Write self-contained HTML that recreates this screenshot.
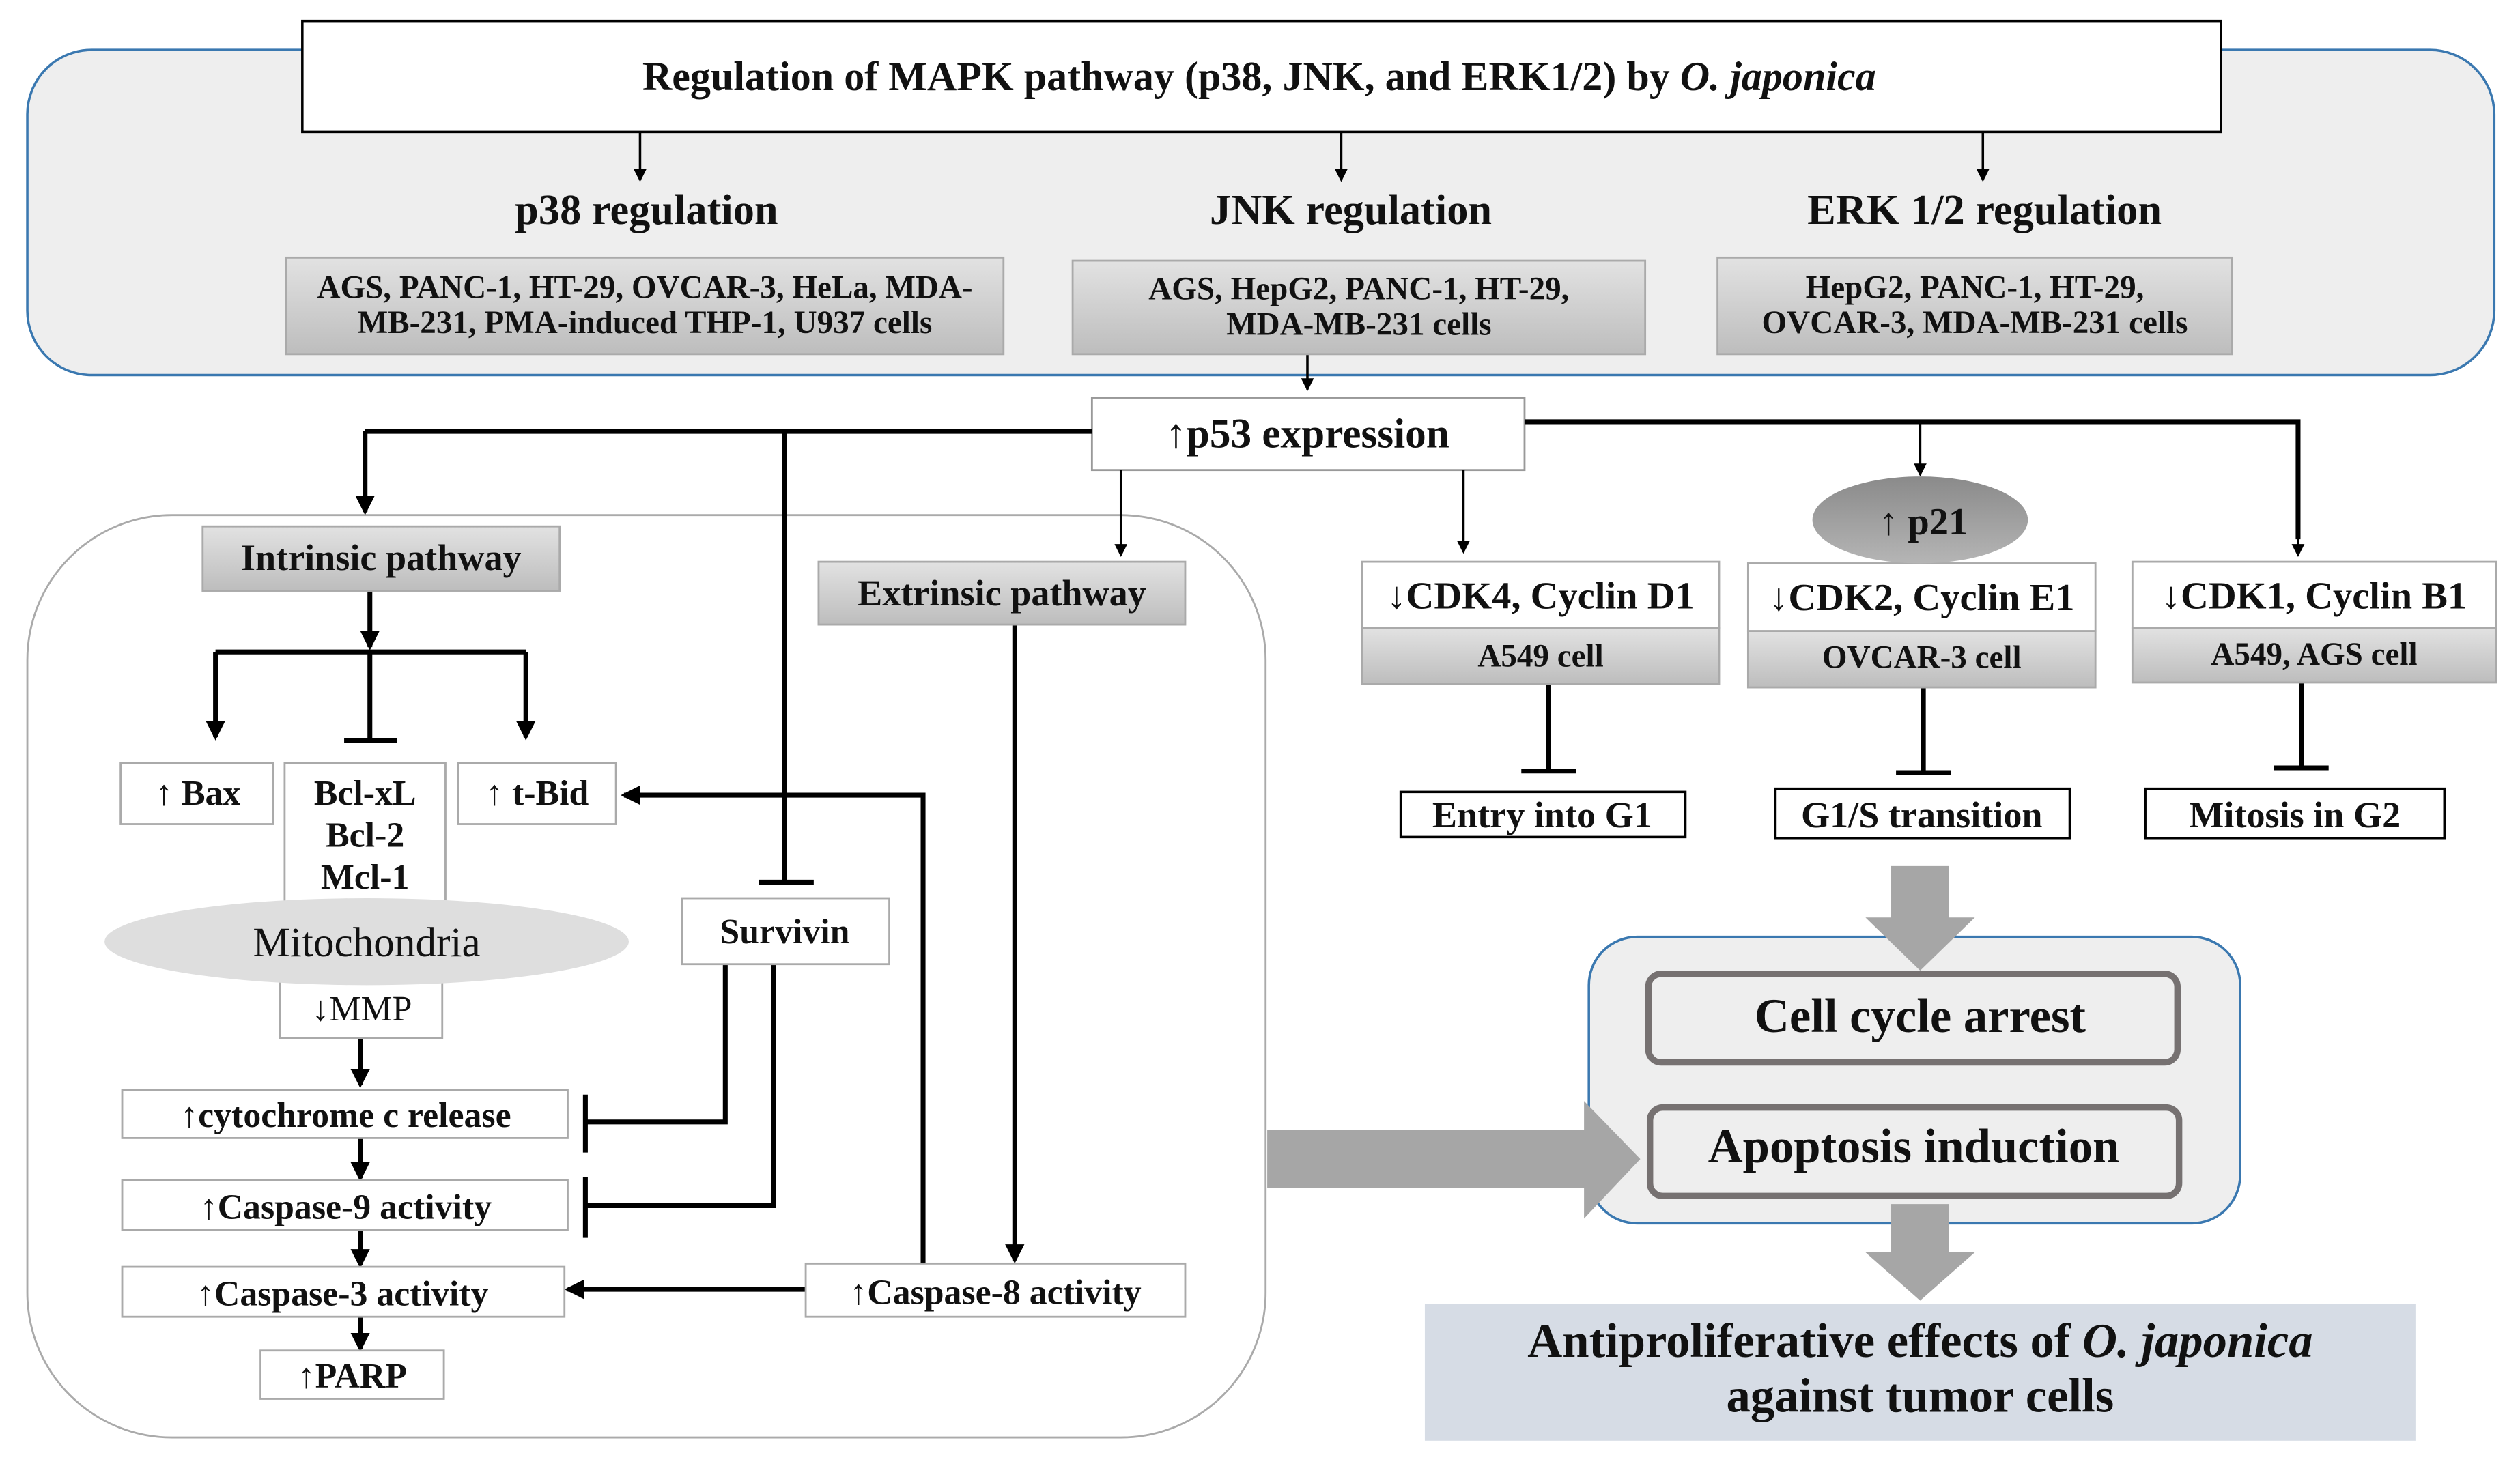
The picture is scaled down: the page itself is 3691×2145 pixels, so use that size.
<!DOCTYPE html>
<html><head><meta charset="utf-8"><style>
html,body{margin:0;padding:0;background:#fff}
svg{display:block}
text{font-family:"Liberation Serif",serif;fill:#111}
.b{font-weight:bold}
</style></head><body>
<svg width="3691" height="2145" viewBox="0 0 1567 909.5" preserveAspectRatio="none" xmlns="http://www.w3.org/2000/svg">
<defs>
<linearGradient id="g" x1="0" y1="0" x2="0" y2="1"><stop offset="0" stop-color="#e2e2e2"/><stop offset="1" stop-color="#bdbdbd"/></linearGradient>
<linearGradient id="p" x1="0" y1="0" x2="0" y2="1"><stop offset="0" stop-color="#8a8a8a"/><stop offset="1" stop-color="#b5b5b5"/></linearGradient>
<marker id="a" markerWidth="8" markerHeight="8" refX="7" refY="4" orient="auto" markerUnits="userSpaceOnUse"><path d="M0,0 L8,4 L0,8 z" fill="#000"/></marker>
<marker id="a2" markerWidth="12" markerHeight="12" refX="10" refY="6" orient="auto" markerUnits="userSpaceOnUse"><path d="M0,0 L12,6 L0,12 z" fill="#000"/></marker>
</defs>
<rect x="17" y="31" width="1534" height="202" rx="40" fill="#eeeeee" stroke="#3a78b0" stroke-width="1.5"/>
<rect x="188" y="13" width="1193" height="69" fill="#fff" stroke="#000" stroke-width="1.5"/>
<text x="783" y="56" font-size="25.5" text-anchor="middle" class="b">Regulation of MAPK pathway (p38, JNK, and ERK1/2) by <tspan font-style="italic">O. japonica</tspan></text>
<g stroke="#000" stroke-width="1.5" marker-end="url(#a)">
<line x1="398" y1="82" x2="398" y2="112"/><line x1="834" y1="82" x2="834" y2="112"/><line x1="1233" y1="82" x2="1233" y2="112"/>
<line x1="813" y1="220" x2="813" y2="242"/>
</g>
<text x="402" y="139" font-size="26.5" text-anchor="middle" class="b">p38 regulation</text>
<text x="840" y="139" font-size="26.5" text-anchor="middle" class="b">JNK regulation</text>
<text x="1234" y="139" font-size="26.5" text-anchor="middle" class="b">ERK 1/2 regulation</text>
<g stroke="#aaa" stroke-width="1.2" fill="url(#g)">
<rect x="178" y="160" width="446" height="60"/><rect x="667" y="162" width="356" height="58"/><rect x="1068" y="160" width="320" height="60"/>
</g>
<g font-size="20" text-anchor="middle" class="b">
<text x="401" y="185">AGS, PANC-1, HT-29, OVCAR-3, HeLa, MDA-</text><text x="401" y="207">MB-231, PMA-induced THP-1, U937 cells</text>
<text x="845" y="186">AGS, HepG2, PANC-1, HT-29,</text><text x="845" y="208">MDA-MB-231 cells</text>
<text x="1228" y="185">HepG2, PANC-1, HT-29,</text><text x="1228" y="207">OVCAR-3, MDA-MB-231 cells</text>
</g>
<rect x="679" y="247" width="269" height="45" fill="#fff" stroke="#999" stroke-width="1.2"/>
<text x="813" y="278" font-size="26" text-anchor="middle" class="b">↑p53 expression</text>
<rect x="17" y="320" width="770" height="573" rx="90" fill="#fff" stroke="#aaa" stroke-width="1.2"/>
<g stroke="#000" stroke-width="3" fill="none">
<polyline points="679,268 227,268"/>
<line x1="488" y1="268" x2="488" y2="548"/><line x1="472" y1="548" x2="506" y2="548"/>
<line x1="134" y1="405" x2="327" y2="405"/>
<line x1="230" y1="405" x2="230" y2="460"/><line x1="214" y1="460" x2="247" y2="460"/>
<polyline points="451,599 451,697 364,697"/><line x1="364" y1="680" x2="364" y2="716"/>
<polyline points="481,599 481,749 364,749"/><line x1="364" y1="731" x2="364" y2="769"/>
<polyline points="948,262 1429,262 1429,335"/>
<line x1="963" y1="425" x2="963" y2="479"/><line x1="946" y1="479" x2="980" y2="479"/>
<line x1="1196" y1="427" x2="1196" y2="480"/><line x1="1179" y1="480" x2="1213" y2="480"/>
<line x1="1431" y1="424" x2="1431" y2="477"/><line x1="1414" y1="477" x2="1448" y2="477"/>
</g>
<g stroke="#000" stroke-width="3" marker-end="url(#a2)">
<line x1="227" y1="268" x2="227" y2="318"/>
<line x1="230" y1="367" x2="230" y2="402"/>
<line x1="134" y1="405" x2="134" y2="458"/><line x1="327" y1="405" x2="327" y2="458"/>
<line x1="631" y1="388" x2="631" y2="783"/>
<polyline points="574,785 574,494 388,494" fill="none"/>
<line x1="501" y1="801" x2="353" y2="801"/>
<line x1="224" y1="645" x2="224" y2="674"/><line x1="224" y1="707" x2="224" y2="732"/>
<line x1="224" y1="764" x2="224" y2="786"/><line x1="224" y1="818" x2="224" y2="838"/>
</g>
<g stroke="#000" stroke-width="1.5" marker-end="url(#a)">
<line x1="697" y1="292" x2="697" y2="345"/><line x1="910" y1="292" x2="910" y2="343"/>
<line x1="1429" y1="330" x2="1429" y2="345"/><line x1="1194" y1="262" x2="1194" y2="295"/>
</g>
<g stroke="#aaa" stroke-width="1.2" fill="url(#g)">
<rect x="126" y="327" width="222" height="40"/><rect x="509" y="349" width="228" height="39"/>
<rect x="847" y="390" width="222" height="35"/><rect x="1087" y="392" width="216" height="35"/><rect x="1326" y="390" width="226" height="34"/>
</g>
<text x="237" y="354" font-size="23" text-anchor="middle" class="b">Intrinsic pathway</text>
<text x="623" y="376" font-size="23" text-anchor="middle" class="b">Extrinsic pathway</text>
<g fill="#fff" stroke="#aaa" stroke-width="1.2">
<rect x="75" y="474" width="95" height="38"/><rect x="177" y="474" width="100" height="92"/><rect x="285" y="474" width="98" height="38"/>
<rect x="424" y="558" width="129" height="41"/><rect x="174" y="607" width="101" height="38"/>
<rect x="76" y="677" width="277" height="30"/><rect x="76" y="733" width="277" height="31"/><rect x="76" y="787" width="275" height="31"/><rect x="162" y="839" width="114" height="30"/>
<rect x="501" y="785" width="236" height="33"/>
<rect x="847" y="349" width="222" height="41"/><rect x="1087" y="350" width="216" height="42"/><rect x="1326" y="349" width="226" height="41"/>
</g>
<ellipse cx="228" cy="585" rx="163" ry="27" fill="#dedede"/>
<text x="228" y="594" font-size="26" text-anchor="middle" fill="#333">Mitochondria</text>
<g font-size="22" text-anchor="middle" class="b">
<text x="123" y="500">↑ Bax</text>
<text x="227" y="500">Bcl-xL</text><text x="227" y="526">Bcl-2</text><text x="227" y="552">Mcl-1</text>
<text x="334" y="500">↑ t-Bid</text>
<text x="488" y="586">Survivin</text>
<text x="215" y="700">↑cytochrome c release</text>
<text x="215" y="757">↑Caspase-9 activity</text>
<text x="213" y="811">↑Caspase-3 activity</text>
<text x="219" y="862">↑PARP</text>
<text x="619" y="810">↑Caspase-8 activity</text>
</g>
<text x="225" y="634" font-size="22" text-anchor="middle" fill="#444">↓MMP</text>
<ellipse cx="1194" cy="323" rx="67" ry="27" fill="url(#p)"/>
<g text-anchor="middle" class="b">
<text x="1196" y="332" font-size="24">↑ p21</text>
<text x="958" y="378" font-size="24">↓CDK4, Cyclin D1</text>
<text x="1195" y="379" font-size="24">↓CDK2, Cyclin E1</text>
<text x="1439" y="378" font-size="24">↓CDK1, Cyclin B1</text>
<text x="958" y="414" font-size="20">A549 cell</text>
<text x="1195" y="415" font-size="20">OVCAR-3 cell</text>
<text x="1439" y="413" font-size="20">A549, AGS cell</text>
</g>
<g fill="#fff" stroke="#000" stroke-width="1.5">
<rect x="871" y="492" width="177" height="28"/><rect x="1104" y="490" width="183" height="31"/><rect x="1334" y="490" width="186" height="31"/>
</g>
<g font-size="23" text-anchor="middle" class="b">
<text x="959" y="514">Entry into G1</text><text x="1195" y="514">G1/S transition</text><text x="1427" y="514">Mitosis in G2</text>
</g>
<rect x="988" y="582" width="405" height="178" rx="30" fill="#eeeeee" stroke="#3a78b0" stroke-width="1.5"/>
<path d="M1176,538 H1212 V570 H1228 L1194,603 L1160,570 H1176 Z" fill="#a6a6a6"/>
<path d="M788,702 H985 V684 L1020,720 L985,757 V738 H788 Z" fill="#a6a6a6"/>
<path d="M1176,748 H1212 V778 H1228 L1194,808 L1160,778 H1176 Z" fill="#a6a6a6"/>
<rect x="1025" y="605" width="329" height="55" rx="8" fill="#eeeeee" stroke="#767171" stroke-width="4"/>
<rect x="1026" y="688" width="329" height="55" rx="8" fill="#eeeeee" stroke="#767171" stroke-width="4"/>
<text x="1194" y="641" font-size="30" text-anchor="middle" class="b">Cell cycle arrest</text>
<text x="1190" y="722" font-size="30" text-anchor="middle" class="b">Apoptosis induction</text>
<rect x="886" y="810" width="616" height="85" fill="#d6dce5"/>
<text x="1194" y="843" font-size="30" text-anchor="middle" class="b">Antiproliferative effects of <tspan font-style="italic">O. japonica</tspan></text>
<text x="1194" y="877" font-size="30" text-anchor="middle" class="b">against tumor cells</text>
</svg>
</body></html>
